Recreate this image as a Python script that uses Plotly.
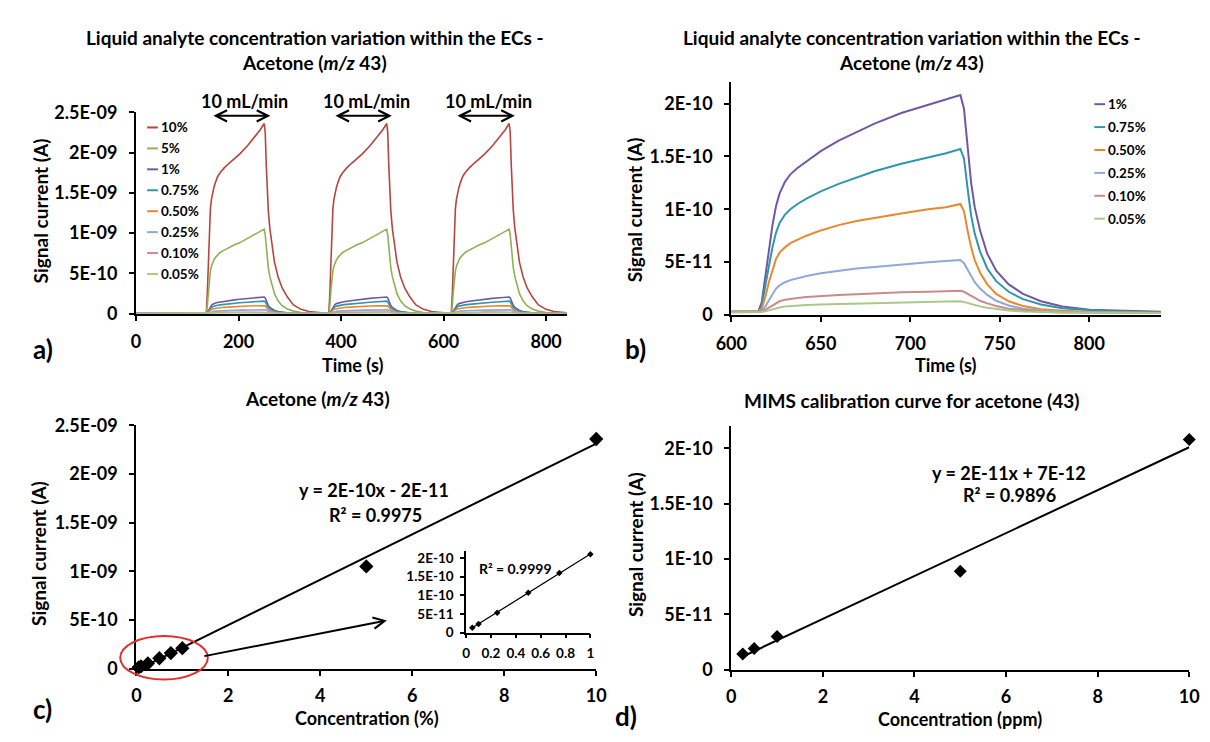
import numpy as np
import plotly.graph_objects as go

W, H = 1210, 742
FONT = "Lato"

# ---------------- data ----------------
labels_a = ["10%", "5%", "1%", "0.75%", "0.50%", "0.25%", "0.10%", "0.05%"]
colors_a = ["#B8443F", "#8CB254", "#7357A4", "#2E97AB", "#E8892F", "#8FA8D8", "#CB8A8C", "#A9C98A"]

# time offsets (s) from the start of each 10 mL/min pulse
pulse_offsets = [0, 2, 4, 6, 8, 10, 12, 15, 18, 22, 27, 35, 45, 55, 65, 80, 95, 105, 113,
                 115, 117, 119, 121, 124, 128, 133, 140, 148, 158, 170, 185, 200, 225]
sig_10 = [2e-12, 2.5e-10, 7.0e-10, 1.05e-9, 1.30e-9, 1.42e-9, 1.50e-9, 1.57e-9, 1.63e-9,
          1.70e-9, 1.75e-9, 1.81e-9, 1.87e-9, 1.92e-9, 1.98e-9, 2.08e-9, 2.20e-9, 2.28e-9,
          2.36e-9, 2.25e-9, 1.85e-9, 1.50e-9, 1.28e-9, 1.06e-9, 8.4e-10, 6.4e-10, 4.6e-10,
          3.2e-10, 2.1e-10, 1.1e-10, 5.5e-11, 2.8e-11, 1.2e-11]
sig_5 = [2e-12, 1.0e-10, 2.8e-10, 4.2e-10, 5.3e-10, 5.9e-10, 6.3e-10, 6.7e-10, 7.0e-10,
         7.3e-10, 7.6e-10, 7.9e-10, 8.25e-10, 8.55e-10, 8.8e-10, 9.3e-10, 9.8e-10, 1.02e-9,
         1.05e-9, 9.8e-10, 8.2e-10, 6.8e-10, 5.7e-10, 4.6e-10, 3.5e-10, 2.5e-10, 1.6e-10,
         1.0e-10, 6.0e-11, 3.3e-11, 1.6e-11, 8e-12, 3e-12]
sig_1 = [3e-12, 1.2e-11, 3.5e-11, 6.2e-11, 8.5e-11, 1.03e-10, 1.15e-10, 1.26e-10, 1.33e-10,
         1.39e-10, 1.45e-10, 1.55e-10, 1.65e-10, 1.73e-10, 1.81e-10, 1.91e-10, 1.99e-10,
         2.04e-10, 2.08e-10, 1.95e-10, 1.60e-10, 1.25e-10, 1.02e-10, 8.0e-11, 5.8e-11,
         4.2e-11, 2.9e-11, 2.0e-11, 1.3e-11, 8e-12, 5e-12, 4e-12, 3e-12]
sig_075 = [3e-12, 9e-12, 2.6e-11, 4.6e-11, 6.4e-11, 7.8e-11, 8.7e-11, 9.5e-11, 1.00e-10,
           1.05e-10, 1.10e-10, 1.17e-10, 1.24e-10, 1.30e-10, 1.36e-10, 1.43e-10, 1.49e-10,
           1.53e-10, 1.57e-10, 1.48e-10, 1.20e-10, 9.4e-11, 7.7e-11, 6.0e-11, 4.4e-11,
           3.2e-11, 2.2e-11, 1.5e-11, 1.0e-11, 6.5e-12, 4.5e-12, 3.5e-12, 2.6e-12]
sig_050 = [3e-12, 6e-12, 1.7e-11, 3.1e-11, 4.3e-11, 5.3e-11, 5.9e-11, 6.4e-11, 6.8e-11,
           7.1e-11, 7.5e-11, 8.0e-11, 8.5e-11, 8.9e-11, 9.2e-11, 9.6e-11, 1.00e-10,
           1.02e-10, 1.05e-10, 9.8e-11, 8.0e-11, 6.4e-11, 5.2e-11, 4.0e-11, 2.9e-11,
           2.0e-11, 1.3e-11, 8.5e-12, 5.5e-12, 4e-12, 3e-12, 2.5e-12, 2.2e-12]
sig_025 = [3e-12, 4e-12, 8e-12, 1.4e-11, 2.0e-11, 2.5e-11, 2.8e-11, 3.1e-11, 3.3e-11,
           3.5e-11, 3.7e-11, 3.95e-11, 4.2e-11, 4.4e-11, 4.55e-11, 4.8e-11, 5.0e-11,
           5.1e-11, 5.2e-11, 4.9e-11, 4.3e-11, 3.7e-11, 3.1e-11, 2.5e-11, 1.9e-11,
           1.35e-11, 9e-12, 6e-12, 4e-12, 3e-12, 2.5e-12, 2.2e-12, 2e-12]
sig_010 = [3e-12, 3.5e-12, 5e-12, 7e-12, 9.5e-12, 1.15e-11, 1.3e-11, 1.45e-11, 1.55e-11,
           1.62e-11, 1.7e-11, 1.8e-11, 1.9e-11, 1.97e-11, 2.05e-11, 2.15e-11, 2.2e-11,
           2.25e-11, 2.3e-11, 2.2e-11, 2.0e-11, 1.8e-11, 1.6e-11, 1.35e-11, 1.1e-11,
           8.5e-12, 6e-12, 4.5e-12, 3.2e-12, 2.5e-12, 2.2e-12, 2e-12, 2e-12]
sig_005 = [2.5e-12, 2.8e-12, 3.5e-12, 4.5e-12, 5.5e-12, 6.5e-12, 7.2e-12, 8e-12, 8.5e-12,
           9e-12, 9.4e-12, 1.0e-11, 1.05e-11, 1.1e-11, 1.15e-11, 1.2e-11, 1.25e-11,
           1.28e-11, 1.3e-11, 1.25e-11, 1.15e-11, 1.05e-11, 9.5e-12, 8.2e-12, 6.8e-12,
           5.5e-12, 4.2e-12, 3.3e-12, 2.7e-12, 2.3e-12, 2.1e-12, 2e-12, 2e-12]
series_a = [sig_10, sig_5, sig_1, sig_075, sig_050, sig_025, sig_010, sig_005]
for s in series_a:
    assert len(s) == len(pulse_offsets)

pulse_starts_a = [137, 376, 615]       # s
pulse_start_b = 615                    # s (third pulse, zoomed in panel b)
flow_windows = [(148, 262), (386, 499), (624, 739)]   # 10 mL/min periods (s)
flow_label = "10 mL/min"

labels_b = labels_a[2:]
colors_b = colors_a[2:]
series_b = series_a[2:]

# panel c / inset
conc_c = [0.05, 0.1, 0.25, 0.5, 0.75, 1, 5, 10]
signal_c = [1.3e-11, 2.3e-11, 5.3e-11, 1.07e-10, 1.6e-10, 2.1e-10, 1.05e-9, 2.36e-9]
conc_inset = conc_c[:6]
signal_inset = signal_c[:6]
eq_c = ["y = 2E-10x - 2E-11", "R² = 0.9975"]
eq_inset = "R² = 0.9999"

# panel d
conc_d = [0.25, 0.5, 1, 5, 10]
signal_d = [1.4e-11, 1.9e-11, 3.0e-11, 8.9e-11, 2.08e-10]
eq_d = ["y = 2E-11x + 7E-12", "R² = 0.9896"]

# tick labels
ytick_a_vals = [0, 5e-10, 1e-9, 1.5e-9, 2e-9, 2.5e-9]
ytick_a_text = ["0", "5E-10", "1E-09", "1.5E-09", "2E-09", "2.5E-09"]
ytick_b_vals = [0, 5e-11, 1e-10, 1.5e-10, 2e-10]
ytick_b_text = ["0", "5E-11", "1E-10", "1.5E-10", "2E-10"]
xtick_a_vals = [0, 200, 400, 600, 800]
xtick_a_text = ["0", "200", "400", "600", "800"]
xtick_b_vals = [600, 650, 700, 750, 800]
xtick_b_text = ["600", "650", "700", "750", "800"]
xtick_cd_vals = [0, 2, 4, 6, 8, 10]
xtick_cd_text = ["0", "2", "4", "6", "8", "10"]
xtick_in_vals = [0, 0.2, 0.4, 0.6, 0.8, 1]
xtick_in_text = ["0", "0.2", "0.4", "0.6", "0.8", "1"]


def bold(lst):
    return ["<b>%s</b>" % t for t in lst]


# ---------------- helpers ----------------
def px(x):
    return x / W


def py(y):
    return 1 - y / H


fig = go.Figure()

# panel a: three pulses
for name, color, vals in zip(labels_a, colors_a, series_a):
    xs = [0] + [s + o for s in pulse_starts_a for o in pulse_offsets]
    ys = [vals[0]] + list(vals) * len(pulse_starts_a)
    fig.add_trace(go.Scatter(x=xs, y=ys, mode="lines", name=name,
                             line=dict(color=color, width=1.6),
                             xaxis="x", yaxis="y", showlegend=False))

# panel b: zoom on the third pulse
for name, color, vals in zip(labels_b, colors_b, series_b):
    xs = [600] + [pulse_start_b + o for o in pulse_offsets]
    ys = [vals[0]] + list(vals)
    fig.add_trace(go.Scatter(x=xs, y=ys, mode="lines", name=name,
                             line=dict(color=color, width=2),
                             xaxis="x2", yaxis="y2", showlegend=False))

# panel c
kc = np.polyfit(conc_c, signal_c, 1)
xl = np.array([min(conc_c), max(conc_c)])
fig.add_trace(go.Scatter(x=xl, y=np.polyval(kc, xl), mode="lines",
                         line=dict(color="black", width=2), xaxis="x3", yaxis="y3",
                         showlegend=False, cliponaxis=False))
fig.add_trace(go.Scatter(x=conc_c, y=signal_c, mode="markers",
                         marker=dict(symbol="diamond", size=11, color="black"),
                         xaxis="x3", yaxis="y3", showlegend=False, cliponaxis=False))

# inset
ki = np.polyfit(conc_inset, signal_inset, 1)
xi = np.array([min(conc_inset), max(conc_inset)])
fig.add_trace(go.Scatter(x=xi, y=np.polyval(ki, xi), mode="lines",
                         line=dict(color="black", width=1.2), xaxis="x5", yaxis="y5",
                         showlegend=False, cliponaxis=False))
fig.add_trace(go.Scatter(x=conc_inset, y=signal_inset, mode="markers",
                         marker=dict(symbol="diamond", size=5, color="black"),
                         xaxis="x5", yaxis="y5", showlegend=False, cliponaxis=False))

# panel d
kd = np.polyfit(conc_d, signal_d, 1)
xd = np.array([min(conc_d), max(conc_d)])
fig.add_trace(go.Scatter(x=xd, y=np.polyval(kd, xd), mode="lines",
                         line=dict(color="black", width=2), xaxis="x4", yaxis="y4",
                         showlegend=False, cliponaxis=False))
fig.add_trace(go.Scatter(x=conc_d, y=signal_d, mode="markers",
                         marker=dict(symbol="diamond", size=10, color="black"),
                         xaxis="x4", yaxis="y4", showlegend=False, cliponaxis=False))

# ---------------- axes ----------------
TICKFONT = dict(family=FONT, size=18, color="black")
INSETFONT = dict(family=FONT, size=13.5, color="black")


def ax(**kw):
    d = dict(showline=True, linecolor="black", linewidth=2, ticks="outside", ticklen=5,
             tickwidth=2, tickcolor="black", showgrid=False, zeroline=False,
             tickfont=TICKFONT, fixedrange=True)
    d.update(kw)
    return d


fig.update_layout(
    xaxis=ax(domain=[px(122.7), px(562.7)], range=[0, 840], anchor="y",
             tickvals=xtick_a_vals, ticktext=bold(xtick_a_text), ticklabelstandoff=6),
    yaxis=ax(domain=[py(311), py(103.3)], range=[0, 2.5e-9], anchor="x",
             tickvals=ytick_a_vals, ticktext=bold(ytick_a_text), ticklabelstandoff=8),
    xaxis2=ax(domain=[px(731), px(1170)], range=[600, 840], anchor="y2",
              tickvals=xtick_b_vals, ticktext=bold(xtick_b_text), ticklabelstandoff=6),
    yaxis2=ax(domain=[py(312.3), py(72.5)], range=[0, 2.2e-10], anchor="x2",
              tickvals=ytick_b_vals, ticktext=bold(ytick_b_text), ticklabelstandoff=8),
    xaxis3=ax(domain=[px(123), px(593)], range=[0, 10], anchor="y3",
              tickvals=xtick_cd_vals, ticktext=bold(xtick_cd_text), ticklabelstandoff=5),
    yaxis3=ax(domain=[py(676.7), py(426)], range=[0, 2.5e-9], anchor="x3",
              tickvals=ytick_a_vals, ticktext=bold(ytick_a_text), ticklabelstandoff=8),
    xaxis4=ax(domain=[px(731), px(1199)], range=[0, 10], anchor="y4",
              tickvals=xtick_cd_vals, ticktext=bold(xtick_cd_text), ticklabelstandoff=5),
    yaxis4=ax(domain=[py(677.7), py(426.9)], range=[0, 2.2e-10], anchor="x4",
              tickvals=ytick_b_vals, ticktext=bold(ytick_b_text), ticklabelstandoff=8),
    xaxis5=ax(domain=[px(460), px(587)], range=[0, 1], anchor="y5", linewidth=1.5,
              tickwidth=1.5, ticklen=4, tickvals=xtick_in_vals, ticktext=bold(xtick_in_text),
              tickfont=INSETFONT, ticklabelstandoff=4),
    yaxis5=ax(domain=[py(639.5), py(555)], range=[0, 2.2e-10], anchor="x5", linewidth=1.5,
              tickwidth=1.5, ticklen=4, tickvals=ytick_b_vals, ticktext=bold(ytick_b_text),
              tickfont=INSETFONT, ticklabelstandoff=4),
)

# ---------------- annotations ----------------
ann = []


def text(x, y, s, size, **kw):
    d = dict(x=px(x), y=py(y), xref="paper", yref="paper", text=s, showarrow=False,
             font=dict(family=FONT, size=size, color="black", weight="bold"),
             xanchor="center", yanchor="middle")
    d.update(kw)
    ann.append(d)


title_ab = "Liquid analyte concentration variation within the ECs -<br>Acetone (<i>m/z</i> 43)"
text(306, 39, title_ab, 19)
text(916, 39, title_ab, 19)
text(308, 398, "Acetone (<i>m/z</i> 43)", 19)
text(915, 400, "MIMS calibration curve for acetone (43)", 19)

# axis titles
text(25, 205, "Signal current (A)", 19, textangle=-90)
text(633, 204, "Signal current (A)", 19, textangle=-90)
text(23, 558, "Signal current (A)", 19, textangle=-90)
text(633, 549, "Signal current (A)", 19, textangle=-90)
text(344, 364, "Time (s)", 18)
text(950, 364, "Time (s)", 18)
text(359, 728, "Concentration (%)", 18)
text(965, 729, "Concentration (ppm)", 18)

# panel letters
text(28, 347, "a)", 26)
text(633, 347, "b)", 26)
text(27, 718, "c)", 26)
text(623, 725, "d)", 26)

# equations
text(366, 493, eq_c[0], 18)
text(367, 518, eq_c[1], 18)
text(1015, 475, eq_d[0], 18)
text(1015, 498, eq_d[1], 18)
text(510, 573, eq_inset, 14)

# 10 mL/min flow windows (double arrows)
for (t0, t1) in flow_windows:
    ann.append(dict(x=t1, y=py(107), xref="x", yref="paper", ax=t0, ay=0, axref="x",
                    ayref="pixel", text="", showarrow=True, arrowside="end+start",
                    arrowhead=5, arrowsize=1.1, arrowwidth=2, arrowcolor="black",
                    standoff=0, startstandoff=0))
    ann.append(dict(x=(t0 + t1) / 2 + 7, y=py(92), xref="x", yref="paper", text=flow_label,
                    showarrow=False, font=dict(family=FONT, size=18, color="black",
                                               weight="bold"),
                    xanchor="center", yanchor="middle"))

# arrow from highlighted region to inset
ann.append(dict(x=px(379), y=py(627), xref="paper", yref="paper", ax=195 - 379,
                ay=663 - 627, axref="pixel", ayref="pixel", text="", showarrow=True,
                arrowhead=5, arrowsize=1.1, arrowwidth=2, arrowcolor="black", standoff=0))

# legends (Excel style short line samples)
shapes = []
for i, (name, color) in enumerate(zip(labels_a, colors_a)):
    yy = 119 + i * 21.57
    shapes.append(dict(type="line", xref="paper", yref="paper", x0=px(134), x1=px(145),
                       y0=py(yy), y1=py(yy), line=dict(color=color, width=2)))
    text(146, yy, name, 13.5, xanchor="left")
for i, (name, color) in enumerate(zip(labels_b, colors_b)):
    yy = 95 + i * 23.6
    shapes.append(dict(type="line", xref="paper", yref="paper", x0=px(1102), x1=px(1113),
                       y0=py(yy), y1=py(yy), line=dict(color=color, width=2)))
    text(1114, yy, name, 13.5, xanchor="left")

# red ellipse highlighting the low-concentration points
shapes.append(dict(type="circle", xref="paper", yref="paper", x0=px(106.5), x1=px(196),
                   y0=py(688), y1=py(643), line=dict(color="#E0302E", width=2)))

fig.update_layout(
    width=W, height=H, margin=dict(l=0, r=0, t=0, b=0),
    paper_bgcolor="white", plot_bgcolor="white",
    font=dict(family=FONT, color="black"),
    annotations=ann, shapes=shapes, showlegend=False,
)

fig.write_html("out.html")
